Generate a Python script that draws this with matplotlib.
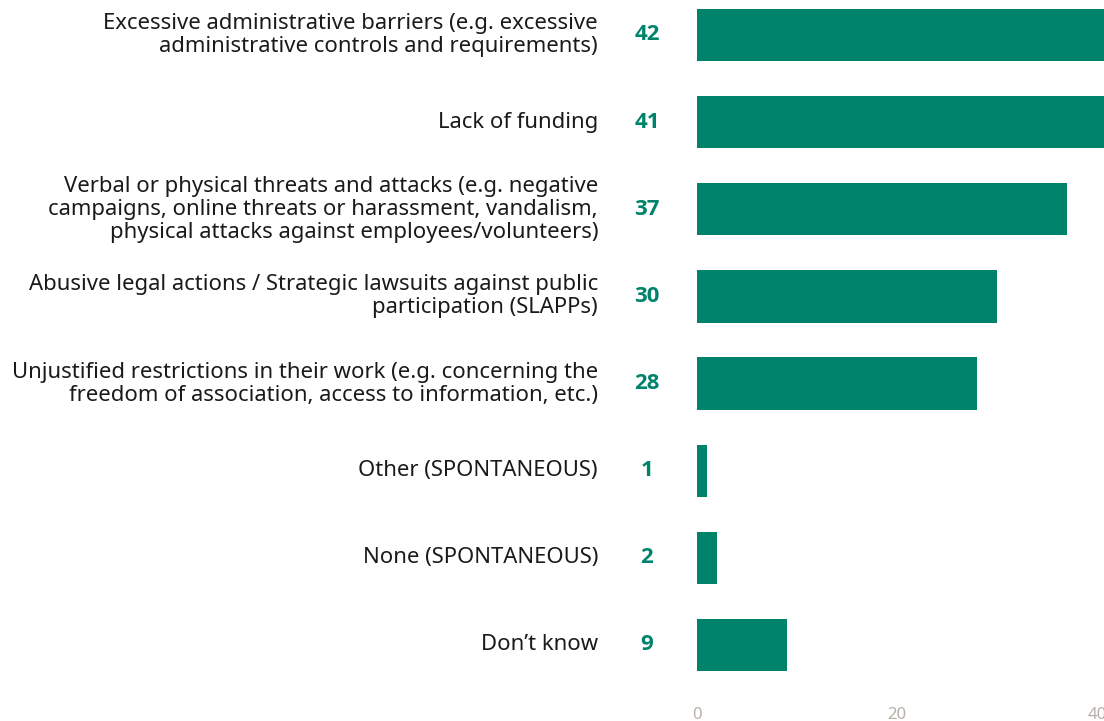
import matplotlib
matplotlib.use("Agg")
import matplotlib.pyplot as plt

categories = [
    "Excessive administrative barriers (e.g. excessive\nadministrative controls and requirements)",
    "Lack of funding",
    "Verbal or physical threats and attacks (e.g. negative\ncampaigns, online threats or harassment, vandalism,\nphysical attacks against employees/volunteers)",
    "Abusive legal actions / Strategic lawsuits against public\nparticipation (SLAPPs)",
    "Unjustified restrictions in their work (e.g. concerning the\nfreedom of association, access to information, etc.)",
    "Other (SPONTANEOUS)",
    "None (SPONTANEOUS)",
    "Don\u2019t know",
]
values = [42, 41, 37, 30, 28, 1, 2, 9]
xticks = [0, 20, 40]

BAR = "#00836b"
W, H = 1104, 721

fig = plt.figure(figsize=(W / 100, H / 100), dpi=100)
# axes spans pixel x 697..1104, y 0..700
ax = fig.add_axes([697 / W, (H - 700) / H, (W - 697) / W, 700 / H])
ax.set_xlim(0, (W - 697) / 10)
px_per_cat = 87.14
ax.set_ylim((700 - 35) / px_per_cat, -35 / px_per_cat)

ypos = list(range(len(values)))
ax.barh(ypos, values, height=0.6, color=BAR, edgecolor="none")

for y, v, c in zip(ypos, values, categories):
    ax.text(-5.0, y, str(v), ha="center", va="center", color=BAR,
            fontsize=16, fontweight="bold", family="Open Sans", clip_on=False)
    ax.text(-9.9, y, c, ha="right", va="center", color="#1a1a1a",
            fontsize=15.9, family="Noto Sans", linespacing=1.12, clip_on=False)

ax.set_xticks(xticks)
ax.set_xticklabels([str(t) for t in xticks], color="#b8b0a8", fontsize=12,
                   family="Noto Sans")
ax.tick_params(axis="x", length=0, pad=5)
ax.set_yticks([])
for s in ax.spines.values():
    s.set_visible(False)

fig.savefig("out.png", dpi=100)
